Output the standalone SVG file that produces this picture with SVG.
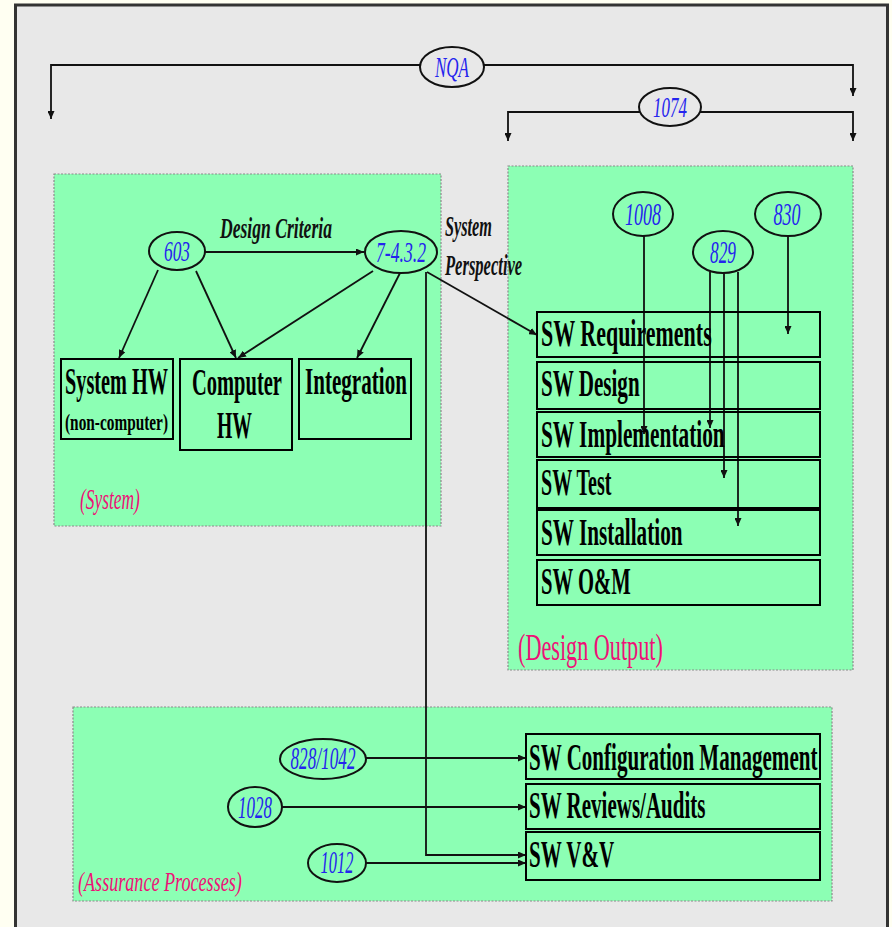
<svg xmlns="http://www.w3.org/2000/svg" width="892" height="927" viewBox="0 0 892 927">
  <defs>
    <marker id="arrow" markerUnits="userSpaceOnUse" markerWidth="9" markerHeight="7" refX="8" refY="3.5" orient="auto">
      <path d="M0,0 L8,3.5 L0,7 z" fill="#111"/>
    </marker>
    <style>
      .panel { fill: #8cffb4; stroke: #8a8a8a; stroke-width: 1.2; stroke-dasharray: 2 1.5; }
      .box { fill: none; stroke: #000; stroke-width: 2; }
      .ell { fill: #8cffb4; stroke: #111; stroke-width: 2; }
      .ell-bg { fill: #e8e8e8; stroke: #111; stroke-width: 2; }
      .conn { fill: none; stroke: #111; stroke-width: 1.8; }
      .arr { marker-end: url(#arrow); }
      text { font-family: "Liberation Serif", "Times New Roman", serif; }
      .lbl { font-weight: bold; font-size: 37px; fill: #000; }
      .sub { font-weight: bold; font-size: 24px; fill: #000; }
      .num { font-style: italic; font-size: 31px; fill: #2424ee; text-anchor: middle; }
      .num-s { font-size: 29px; }
      .cap { font-style: italic; font-weight: bold; font-size: 30px; fill: #111; }
      .grp { fill: #ee1177; }
    </style>
  </defs>

  <!-- page and frame -->
  <rect x="0" y="0" width="892" height="927" fill="#fffff2"/>
  <rect x="15.5" y="5" width="872" height="940" fill="#e8e8e8" stroke="#333" stroke-width="3"/>

  <!-- group panels -->
  <rect class="panel" x="54" y="174" width="387" height="352"/>
  <rect class="panel" x="508" y="166" width="345" height="504"/>
  <rect class="panel" x="73" y="707" width="759" height="194"/>

  <!-- group captions (glyphs condensed horizontally) -->
  <text class="grp" style="font-size:30px;font-style:italic" transform="translate(80,509) scale(0.58,1)">(System)</text>
  <text class="grp" style="font-size:37px" transform="translate(518,660) scale(0.6,1)">(Design Output)</text>
  <text class="grp" style="font-size:28px;font-style:italic" transform="translate(78,891) scale(0.647,1)">(Assurance Processes)</text>

  <!-- connectors -->
  <g id="connectors">
    <!-- NQA bracket -->
    <path class="conn arr" d="M452,65 H51 V119"/>
    <path class="conn arr" d="M452,65 H853 V96"/>
    <!-- 1074 bracket -->
    <path class="conn arr" d="M670,112 H508 V141"/>
    <path class="conn arr" d="M670,112 H853 V141"/>
    <!-- system group -->
    <path class="conn arr" d="M205,252 H364"/>
    <path class="conn arr" d="M158,270 L119,358"/>
    <path class="conn arr" d="M196,271 L236,358"/>
    <path class="conn arr" d="M373,271 L238,358"/>
    <path class="conn arr" d="M400,273 L357,358"/>
    <path class="conn arr" d="M427,272 L537,335"/>
    <path class="conn arr" d="M426,272 V855 H526"/>
    <!-- design output -->
    <path class="conn arr" d="M644,236 V434"/>
    <path class="conn arr" d="M710,272 V428"/>
    <path class="conn arr" d="M724,273 V478"/>
    <path class="conn arr" d="M738,272 V526"/>
    <path class="conn arr" d="M788,237 V334"/>
    <!-- assurance -->
    <path class="conn arr" d="M366,758 H526"/>
    <path class="conn arr" d="M282,807 H526"/>
    <path class="conn arr" d="M366,863 H526"/>
  </g>

  <!-- top references -->
  <g id="nqa">
    <ellipse class="ell-bg" cx="452" cy="67" rx="32" ry="20"/>
    <text class="num num-s" transform="translate(452,77) scale(0.586,1)">NQA</text>
  </g>
  <g id="ref-1074">
    <ellipse class="ell-bg" cx="670" cy="107" rx="31" ry="19"/>
    <text class="num num-s" transform="translate(670,117) scale(0.586,1)">1074</text>
  </g>

  <!-- system group -->
  <g id="ref-603">
    <ellipse class="ell" cx="177" cy="251" rx="28" ry="19"/>
    <text class="num num-s" transform="translate(177,261) scale(0.6,1)">603</text>
  </g>
  <g id="ref-7-4-3-2">
    <ellipse class="ell" cx="401" cy="252" rx="36" ry="21"/>
    <text class="num num-s" transform="translate(401,262) scale(0.61,1)">7-4.3.2</text>
  </g>
  <text class="cap" transform="translate(220,238) scale(0.587,1)">Design Criteria</text>
  <text class="cap" transform="translate(445,236) scale(0.542,1)">System</text>
  <text class="cap" transform="translate(445,275) scale(0.552,1)">Perspective</text>

  <g id="system-hw">
    <rect class="box" x="61" y="359" width="112" height="80"/>
    <text class="lbl" transform="translate(65,394) scale(0.548,1)">System HW</text>
    <text class="sub" transform="translate(65,430) scale(0.639,1)">(non-computer)</text>
  </g>
  <g id="computer-hw">
    <rect class="box" x="180" y="359" width="112" height="91"/>
    <text class="lbl" transform="translate(192,395) scale(0.554,1)">Computer</text>
    <text class="lbl" transform="translate(217,438) scale(0.532,1)">HW</text>
  </g>
  <g id="integration">
    <rect class="box" x="299" y="359" width="112" height="80"/>
    <text class="lbl" transform="translate(305,394) scale(0.57,1)">Integration</text>
  </g>

  <!-- design output group -->
  <g id="ref-1008">
    <ellipse class="ell" cx="643" cy="214" rx="30" ry="22"/>
    <text class="num" transform="translate(643,225) scale(0.58,1)">1008</text>
  </g>
  <g id="ref-829">
    <ellipse class="ell" cx="723" cy="252" rx="30" ry="21"/>
    <text class="num" transform="translate(723,263) scale(0.56,1)">829</text>
  </g>
  <g id="ref-830">
    <ellipse class="ell" cx="788" cy="214" rx="33" ry="22"/>
    <text class="num" transform="translate(787,225) scale(0.58,1)">830</text>
  </g>

  <g id="sw-requirements">
    <rect class="box" x="537" y="312" width="283" height="45"/>
    <text class="lbl" transform="translate(541,346) scale(0.594,1)">SW Requirements</text>
  </g>
  <g id="sw-design">
    <rect class="box" x="537" y="362" width="283" height="47"/>
    <text class="lbl" transform="translate(541,396) scale(0.57,1)">SW Design</text>
  </g>
  <g id="sw-implementation">
    <rect class="box" x="537" y="412" width="283" height="45"/>
    <text class="lbl" transform="translate(541,447) scale(0.576,1)">SW Implementation</text>
  </g>
  <g id="sw-test">
    <rect class="box" x="537" y="460" width="283" height="48"/>
    <text class="lbl" transform="translate(541,495) scale(0.542,1)">SW Test</text>
  </g>
  <g id="sw-installation">
    <rect class="box" x="537" y="510" width="283" height="45"/>
    <text class="lbl" transform="translate(541,545) scale(0.573,1)">SW Installation</text>
  </g>
  <g id="sw-om">
    <rect class="box" x="537" y="560" width="283" height="45"/>
    <text class="lbl" transform="translate(541,594) scale(0.558,1)">SW O&amp;M</text>
  </g>

  <!-- assurance group -->
  <g id="ref-828-1042">
    <ellipse class="ell" cx="323" cy="759" rx="43" ry="20"/>
    <text class="num" transform="translate(323,769) scale(0.555,1)">828/1042</text>
  </g>
  <g id="ref-1028">
    <ellipse class="ell" cx="255" cy="807" rx="27" ry="20"/>
    <text class="num" transform="translate(255,818) scale(0.548,1)">1028</text>
  </g>
  <g id="ref-1012">
    <ellipse class="ell" cx="337" cy="863" rx="29" ry="19"/>
    <text class="num" transform="translate(337,873) scale(0.532,1)">1012</text>
  </g>

  <g id="sw-configuration-management">
    <rect class="box" x="526" y="734" width="294" height="45"/>
    <text class="lbl" transform="translate(529,770) scale(0.569,1)">SW Configuration Management</text>
  </g>
  <g id="sw-reviews-audits">
    <rect class="box" x="526" y="784" width="294" height="45"/>
    <text class="lbl" transform="translate(529,818) scale(0.568,1)">SW Reviews/Audits</text>
  </g>
  <g id="sw-vv">
    <rect class="box" x="526" y="832" width="294" height="48"/>
    <text class="lbl" transform="translate(529,867) scale(0.569,1)">SW V&amp;V</text>
  </g>
</svg>
